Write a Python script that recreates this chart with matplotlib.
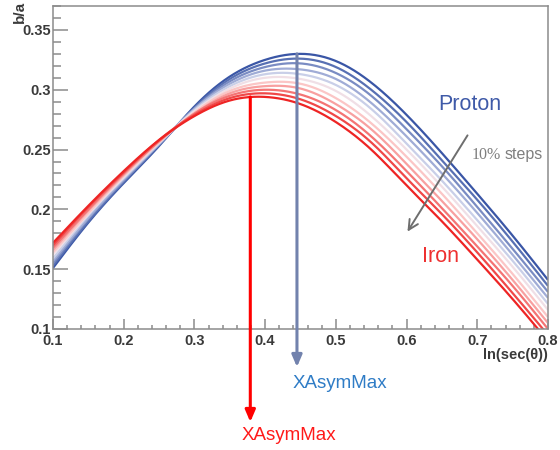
import numpy as np
import matplotlib
matplotlib.use("Agg")
import matplotlib.pyplot as plt
from matplotlib.ticker import MultipleLocator

# ---------------- data ----------------
x_vals = [0.10, 0.15, 0.20, 0.25, 0.30, 0.35, 0.40, 0.45, 0.50, 0.55, 0.60, 0.65, 0.70, 0.75, 0.80]

# 11 curves: Proton (0%) -> Iron (100%) in 10% steps
curve_0 = [.151, .189, .222, .253, .286, .311, .325, .330, .324, .306, .279, .247, .213, .178, .141]
curve_1 = [.153, .190, .223, .254, .285, .309, .322, .326, .319, .300, .273, .241, .208, .173, .136]
curve_2 = [.155, .192, .224, .254, .284, .307, .319, .322, .314, .295, .267, .236, .202, .167, .131]
curve_3 = [.157, .193, .225, .255, .284, .305, .316, .317, .309, .289, .261, .230, .197, .162, .126]
curve_4 = [.159, .195, .226, .255, .283, .303, .313, .313, .304, .284, .255, .224, .191, .157, .121]
curve_5 = [.162, .196, .227, .256, .282, .301, .310, .309, .299, .278, .250, .219, .186, .152, .116]
curve_6 = [.164, .197, .228, .256, .281, .299, .306, .305, .293, .272, .244, .213, .180, .146, .110]
curve_7 = [.166, .199, .229, .257, .280, .297, .303, .301, .288, .267, .238, .207, .175, .141, .105]
curve_8 = [.168, .200, .230, .257, .280, .295, .300, .296, .283, .261, .232, .201, .169, .136, .100]
curve_9 = [.170, .202, .231, .258, .279, .293, .297, .292, .278, .256, .226, .196, .164, .130, .095]
curve_10 = [.172, .203, .232, .258, .278, .291, .294, .288, .273, .250, .220, .190, .158, .125, .090]
curves = [curve_0, curve_1, curve_2, curve_3, curve_4, curve_5,
          curve_6, curve_7, curve_8, curve_9, curve_10]

xasym_iron = 0.379
xasym_proton = 0.445
peak_iron = 0.294
peak_proton = 0.330

ytick_vals = [0.1, 0.15, 0.2, 0.25, 0.3, 0.35]
ytick_labels = ["0.1", "0.15", "0.2", "0.25", "0.3", "0.35"]
xtick_vals = [0.1, 0.2, 0.3, 0.4, 0.5, 0.6, 0.7, 0.8]
xtick_labels = ["0.1", "0.2", "0.3", "0.4", "0.5", "0.6", "0.7", "0.8"]

# ---------------- styles ----------------
colors = ["#3a56a6", "#5870b3", "#7a8cc3", "#a0acd6", "#c9cfe8", "#f0dfe6",
          "#fbc6c6", "#f8a0a0", "#f47474", "#f04848", "#ee2424"]


def natural_spline(x, y, xs):
    x = np.asarray(x, float)
    y = np.asarray(y, float)
    n = len(x)
    h = np.diff(x)
    A = np.zeros((n, n))
    b = np.zeros(n)
    A[0, 0] = A[-1, -1] = 1
    for i in range(1, n - 1):
        A[i, i - 1] = h[i - 1]
        A[i, i] = 2 * (h[i - 1] + h[i])
        A[i, i + 1] = h[i]
        b[i] = 3 * ((y[i + 1] - y[i]) / h[i] - (y[i] - y[i - 1]) / h[i - 1])
    c = np.linalg.solve(A, b)
    bc = (y[1:] - y[:-1]) / h - h * (2 * c[:-1] + c[1:]) / 3
    d = (c[1:] - c[:-1]) / (3 * h)
    idx = np.clip(np.searchsorted(x, xs) - 1, 0, n - 2)
    dx = xs - x[idx]
    return y[idx] + bc[idx] * dx + c[idx] * dx ** 2 + d[idx] * dx ** 3


W, H = 560, 450
fig = plt.figure(figsize=(W / 100, H / 100), dpi=100)
fig.patch.set_facecolor("white")

def fx(px):
    return px / W

def fy(py):
    return 1 - py / H

ax = fig.add_axes([fx(53), fy(329), fx(548) - fx(53), fy(6) - fy(329)])

xs = np.linspace(x_vals[0], x_vals[-1], 400)
for c, col in zip(curves, colors):
    ax.plot(xs, natural_spline(x_vals, c, xs), color=col, lw=1.6,
            solid_capstyle="butt")

ax.set_xlim(0.1, 0.8)
ax.set_ylim(0.1, 0.37)

frame_col = "#8c8c8c"
for s in ax.spines.values():
    s.set_color(frame_col)
    s.set_linewidth(1.1)

ax.set_xticks(xtick_vals)
ax.set_xticklabels(xtick_labels)
ax.set_yticks(ytick_vals)
ax.set_yticklabels(ytick_labels)
ax.xaxis.set_minor_locator(MultipleLocator(0.02))
ax.yaxis.set_minor_locator(MultipleLocator(0.01))
ax.tick_params(axis="both", which="both", direction="in", color=frame_col,
               width=1.1, labelcolor="#3a3a3a", top=False, right=False)
ax.tick_params(axis="x", which="major", length=7.2, pad=3.5)
ax.tick_params(axis="x", which="minor", length=3.2)
ax.tick_params(axis="y", which="major", length=10.8, pad=1.5)
ax.tick_params(axis="y", which="minor", length=5.5)
for lab in ax.get_xticklabels() + ax.get_yticklabels():
    lab.set_fontfamily("Liberation Sans")
    lab.set_fontweight("bold")
    lab.set_fontsize(10.5)

# axis titles (ROOT style)
fig.text(fx(20), fy(1), "b/a", rotation=90, ha="center", va="top",
         fontsize=11, fontweight="bold", family="Liberation Sans", color="#3a3a3a")
fig.text(fx(548), fy(355), "ln(sec(\u03b8))", ha="right", va="center",
         fontsize=10.5, fontweight="bold", family="Liberation Sans", color="#3a3a3a")

# XAsymMax arrows
ax.annotate("", xy=(xasym_iron, fy(422)), xycoords=("data", "figure fraction"),
            xytext=(xasym_iron, peak_iron), textcoords="data",
            arrowprops=dict(arrowstyle="-|>,head_length=0.7,head_width=0.3",
                            color="#ff0000", lw=2.2, shrinkA=0, shrinkB=0),
            annotation_clip=False)
ax.annotate("", xy=(xasym_proton, fy(367)), xycoords=("data", "figure fraction"),
            xytext=(xasym_proton, peak_proton), textcoords="data",
            arrowprops=dict(arrowstyle="-|>,head_length=0.7,head_width=0.3",
                            color="#7282ad", lw=2.2, shrinkA=0, shrinkB=0),
            annotation_clip=False)

fig.text(fx(340), fy(383), "XAsymMax", ha="center", va="center",
         fontsize=13.5, family="Liberation Sans", color="#2f7cc6")
fig.text(fx(289), fy(435), "XAsymMax", ha="center", va="center",
         fontsize=13.5, family="Liberation Sans", color="#ff1a1a")

# labels inside
fig.text(fx(470), fy(105), "Proton", ha="center", va="center",
         fontsize=15.5, family="Liberation Sans", color="#3f5aa8")
fig.text(fx(441), fy(257), "Iron", ha="center", va="center",
         fontsize=15.5, family="Liberation Sans", color="#ee3030")
fig.text(fx(472), fy(155), "10%", ha="left", va="center",
         fontsize=11.5, family="Liberation Serif", color="#7f7f7f")
fig.text(fx(505), fy(155), "steps", ha="left", va="center",
         fontsize=11.5, family="Liberation Sans", color="#7f7f7f")

fig.add_artist(matplotlib.patches.FancyArrowPatch(
    (fx(469), fy(133)), (fx(406), fy(234)), transform=fig.transFigure,
    arrowstyle="->,head_length=7,head_width=3.5", color="#6e6e6e", lw=1.4,
    mutation_scale=1))

fig.savefig("out.png", dpi=100, facecolor="white")
